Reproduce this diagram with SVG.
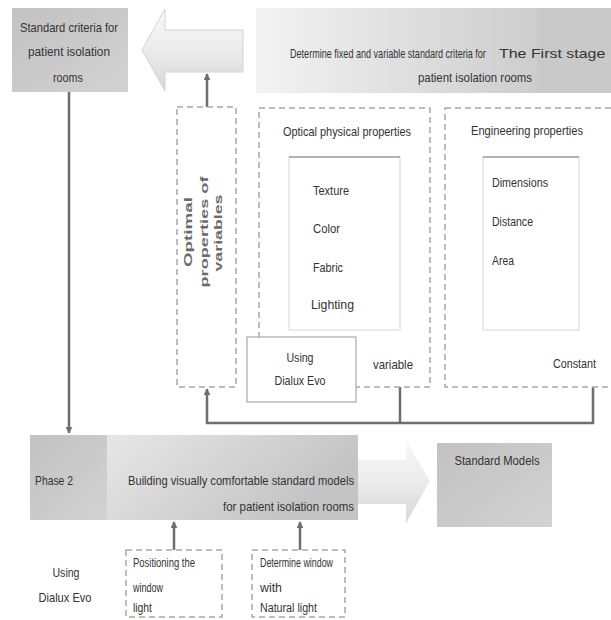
<svg xmlns="http://www.w3.org/2000/svg" width="611" height="620" viewBox="0 0 611 620">
<defs>
<style>
.t{font-family:"Liberation Sans",Arial,sans-serif;font-size:13px;fill:#333}
.s{font-family:"Liberation Sans",Arial,sans-serif;font-size:12px;fill:#333}
.b{font-family:"Liberation Sans",Arial,sans-serif;font-size:10.5px;font-weight:bold;fill:#6a6a6a}
.dash{fill:#fff;stroke:#a8a8a8;stroke-width:1.5;stroke-dasharray:6 4}
.inner{fill:#fff;stroke:#d6d6d6;stroke-width:1}
.topline{stroke:#a0a0a0;stroke-width:1.5}
.conn{fill:none;stroke:#6e6e6e;stroke-width:2.5}
</style>
<marker id="ah" viewBox="0 0 10 10" refX="9" refY="5" markerWidth="7" markerHeight="7" markerUnits="userSpaceOnUse" orient="auto">
<path d="M0,0 L10,5 L0,10 z" fill="#6e6e6e"/>
</marker>
<linearGradient id="gBanner" x1="0" y1="0" x2="1" y2="0">
<stop offset="0" stop-color="#f3f3f3"/>
<stop offset="1" stop-color="#cdcdcd"/>
</linearGradient>
<linearGradient id="gDark" x1="0" y1="0" x2="1" y2="1">
<stop offset="0" stop-color="#c2c2c2"/>
<stop offset="1" stop-color="#d2d2d2"/>
</linearGradient>
<linearGradient id="gArrow" x1="0" y1="0" x2="0" y2="1">
<stop offset="0" stop-color="#f8f8f8"/>
<stop offset="0.5" stop-color="#ececec"/>
<stop offset="1" stop-color="#d6d6d6"/>
</linearGradient>
<linearGradient id="gBottom" x1="0" y1="0" x2="1" y2="0.3">
<stop offset="0" stop-color="#f0f0f0"/>
<stop offset="1" stop-color="#c4c4c4"/>
</linearGradient>
</defs>

<g id="connectors">
<path class="conn" d="M69,92 V433" marker-end="url(#ah)"/>
<path class="conn" d="M207,107 V74" marker-end="url(#ah)"/>
<path class="conn" d="M400,387 V423"/>
<path class="conn" d="M593,387 V423 H207 V389" marker-end="url(#ah)"/>
<path class="conn" d="M174,550 V522" marker-end="url(#ah)"/>
<path class="conn" d="M300,550 V522" marker-end="url(#ah)"/>
</g>

<g id="node-standard-criteria">
<rect x="12" y="8" width="116" height="84" fill="url(#gDark)"/>
<text class="t" x="69" y="32" text-anchor="middle" textLength="98" lengthAdjust="spacingAndGlyphs">Standard criteria for</text>
<text class="t" x="69" y="56" text-anchor="middle" textLength="82" lengthAdjust="spacingAndGlyphs">patient isolation</text>
<text class="t" x="68" y="82" text-anchor="middle" textLength="30" lengthAdjust="spacingAndGlyphs">rooms</text>
</g>

<g id="node-left-arrow">
<path d="M243,30 H165 V9 L142,50 L165,91 V72 H243 z" fill="url(#gArrow)" stroke="#d4d4d4" stroke-width="1"/>
</g>

<g id="node-first-stage">
<rect x="256" y="8" width="281" height="85" fill="url(#gBanner)"/>
<rect x="537" y="8" width="74" height="85" fill="#c9c9c9"/>
<g transform="translate(290,58) scale(0.68,1)">
<text class="t" x="0" y="0" font-size="12" textLength="288" lengthAdjust="spacingAndGlyphs">Determine fixed and variable standard criteria for</text>
</g>
<g transform="translate(499,58) scale(0.85,1)">
<text class="t" x="0" y="0" textLength="125" lengthAdjust="spacingAndGlyphs">The First stage</text>
</g>
<text class="t" x="418" y="82" textLength="114" lengthAdjust="spacingAndGlyphs">patient isolation rooms</text>
</g>

<g id="node-optimal">
<rect class="dash" x="177" y="107" width="59" height="280"/>
<text class="b" transform="translate(192,232) rotate(-90)" text-anchor="middle" textLength="70" lengthAdjust="spacingAndGlyphs">Optimal</text>
<text class="b" transform="translate(208,232) rotate(-90)" text-anchor="middle" textLength="111" lengthAdjust="spacingAndGlyphs">properties of</text>
<text class="b" transform="translate(222,233) rotate(-90)" text-anchor="middle" textLength="77" lengthAdjust="spacingAndGlyphs">variables</text>
</g>

<g id="node-optical">
<rect class="dash" x="259" y="108" width="171" height="279"/>
<text class="t" x="283" y="136" textLength="128" lengthAdjust="spacingAndGlyphs">Optical physical properties</text>
<rect class="inner" x="289" y="157" width="111" height="173"/>
<line class="topline" x1="289" y1="157" x2="400" y2="157"/>
<text class="t" x="313" y="195" font-size="14" textLength="36" lengthAdjust="spacingAndGlyphs">Texture</text>
<text class="t" x="313" y="233" font-size="14" textLength="27" lengthAdjust="spacingAndGlyphs">Color</text>
<text class="t" x="313" y="272" font-size="14" textLength="30" lengthAdjust="spacingAndGlyphs">Fabric</text>
<text class="t" x="311" y="309" font-size="14" textLength="43" lengthAdjust="spacingAndGlyphs">Lighting</text>
<text class="t" x="373" y="369" textLength="40" lengthAdjust="spacingAndGlyphs">variable</text>
</g>

<g id="node-dialux-top">
<rect x="247" y="337" width="109" height="65" fill="#fff" stroke="#a8a8a8" stroke-width="1.2"/>
<text class="t" x="300" y="362" text-anchor="middle" textLength="27" lengthAdjust="spacingAndGlyphs">Using</text>
<text class="t" x="300" y="385" text-anchor="middle" textLength="51" lengthAdjust="spacingAndGlyphs">Dialux Evo</text>
</g>

<g id="node-engineering">
<rect class="dash" x="445" y="108" width="172" height="279"/>
<text class="t" x="471" y="135" textLength="112" lengthAdjust="spacingAndGlyphs">Engineering properties</text>
<rect class="inner" x="483" y="157" width="96" height="173"/>
<line class="topline" x1="483" y1="157" x2="579" y2="157"/>
<text class="t" x="492" y="187" textLength="56" lengthAdjust="spacingAndGlyphs">Dimensions</text>
<text class="t" x="492" y="226" textLength="41" lengthAdjust="spacingAndGlyphs">Distance</text>
<text class="t" x="492" y="265" textLength="22" lengthAdjust="spacingAndGlyphs">Area</text>
<text class="t" x="553" y="368" textLength="43" lengthAdjust="spacingAndGlyphs">Constant</text>
</g>

<g id="node-phase2">
<rect x="30" y="435" width="328" height="85" fill="url(#gBottom)"/>
<rect x="30" y="435" width="77" height="85" fill="url(#gDark)"/>
<text class="t" x="35" y="485" textLength="38" lengthAdjust="spacingAndGlyphs">Phase 2</text>
<text class="t" x="354" y="485" text-anchor="end" textLength="226" lengthAdjust="spacingAndGlyphs">Building visually comfortable standard models</text>
<text class="t" x="354" y="511" text-anchor="end" textLength="131" lengthAdjust="spacingAndGlyphs">for patient isolation rooms</text>
</g>

<g id="node-right-arrow">
<path d="M358,460 H406 V440 L430,481 L406,523 V504 H358 z" fill="url(#gArrow)"/>
</g>

<g id="node-standard-models">
<rect x="437" y="443" width="115" height="84" fill="url(#gDark)"/>
<text class="t" x="497" y="465" text-anchor="middle" textLength="85" lengthAdjust="spacingAndGlyphs">Standard Models</text>
</g>

<g id="node-dialux-bottom">
<text class="t" x="66" y="577" text-anchor="middle" textLength="27" lengthAdjust="spacingAndGlyphs">Using</text>
<text class="t" x="65" y="602" text-anchor="middle" textLength="53" lengthAdjust="spacingAndGlyphs">Dialux Evo</text>
</g>

<g id="node-positioning">
<rect class="dash" x="126" y="550" width="96" height="67"/>
<text class="s" x="133" y="567" textLength="62" lengthAdjust="spacingAndGlyphs">Positioning the</text>
<text class="s" x="133" y="592" textLength="30" lengthAdjust="spacingAndGlyphs">window</text>
<text class="s" x="133" y="612" textLength="19" lengthAdjust="spacingAndGlyphs">light</text>
</g>

<g id="node-determine-window">
<rect class="dash" x="252" y="550" width="93" height="67"/>
<text class="s" x="260" y="567" textLength="73" lengthAdjust="spacingAndGlyphs">Determine window</text>
<text class="s" x="260" y="592" textLength="22" lengthAdjust="spacingAndGlyphs">with</text>
<text class="s" x="260" y="612" textLength="57" lengthAdjust="spacingAndGlyphs">Natural light</text>
</g>
</svg>
